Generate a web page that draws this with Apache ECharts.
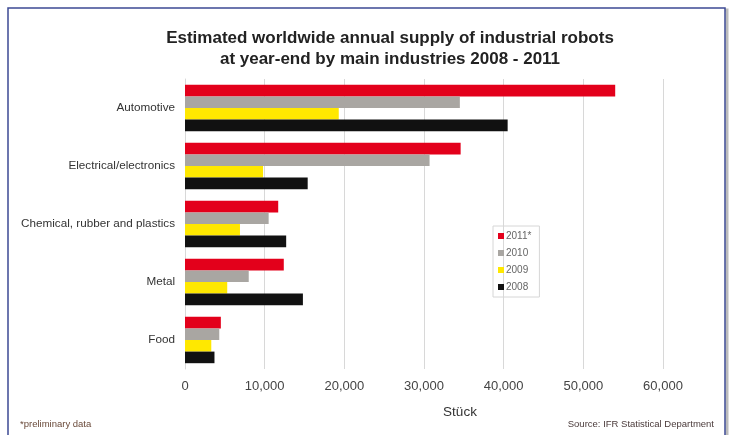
<!DOCTYPE html>
<html>
<head>
<meta charset="utf-8">
<script src="https://cdn.jsdelivr.net/npm/echarts@6/dist/echarts.min.js"></script>
<style>
html,body{margin:0;padding:0;background:#fff;}
#chart{width:735px;height:435px;}
</style>
</head>
<body>
<div id="chart"></div>
<script>
var categories = ['Automotive', 'Electrical/electronics', 'Chemical, rubber and plastics', 'Metal', 'Food'];
var seriesNames = ['2011*', '2010', '2009', '2008'];
var values2011 = [54000, 34600, 11700, 12400, 4500];
var values2010 = [34500, 30700, 10500, 8000, 4300];
var values2009 = [19300, 9800, 6900, 5300, 3300];
var values2008 = [40500, 15400, 12700, 14800, 3700];
var xTicks = [0, 10000, 20000, 30000, 40000, 50000, 60000];

var colors = ['#e3001b', '#a9a6a2', '#ffe800', '#111111'];
var allValues = [values2011, values2010, values2009, values2008];

var chart = echarts.init(document.getElementById('chart'));
var font = '"Liberation Sans", Arial, sans-serif';

chart.setOption({
  animation: false,
  textStyle: { fontFamily: font },
  title: {
    text: 'Estimated worldwide annual supply of industrial robots\nat year-end by main industries 2008 - 2011',
    left: 385, top: 23, textAlign: 'center',
    textStyle: { fontSize: 17, fontWeight: 'bold', color: '#222', lineHeight: 21, fontFamily: font }
  },
  legend: {
    orient: 'vertical',
    left: 493, top: 226,
    itemWidth: 6, itemHeight: 6, itemGap: 7,
    padding: [5, 8, 5, 5],
    borderColor: '#d6d6d6', borderWidth: 1,
    icon: 'rect',
    data: seriesNames,
    textStyle: { fontSize: 10, color: '#666', padding: [0, 0, 0, -3] }
  },
  grid: { left: 185, right: 72, top: 79, height: 290, containLabel: false },
  xAxis: {
    type: 'value', min: 0, max: 60000, interval: 10000,
    name: 'Stück', nameLocation: 'middle', nameGap: 36,
    nameTextStyle: { fontSize: 13.5, color: '#333', padding: [0, 0, 0, 72] },
    axisLine: { show: false }, axisTick: { show: false },
    axisLabel: {
      fontSize: 13, color: '#444', margin: 11,
      formatter: function (v) { return v.toLocaleString('en-US'); }
    },
    splitLine: { lineStyle: { color: '#d8d8d8', width: 1 } }
  },
  yAxis: {
    type: 'category', data: categories, inverse: true,
    axisLine: { show: true, lineStyle: { color: '#d8d8d8' } },
    axisTick: { show: false },
    axisLabel: { fontSize: 11.7, color: '#333', margin: 10 }
  },
  series: seriesNames.map(function (n, i) {
    return {
      name: n, type: 'bar', data: allValues[i],
      barGap: '0%', barCategoryGap: '20%',
      itemStyle: { color: colors[i] }
    };
  }),
  graphic: [
    { type: 'rect', shape: { x: 10, y: 10, width: 717, height: 440 }, style: { fill: 'none', stroke: '#bbbbbb', lineWidth: 3 }, z: -2 },
    { type: 'rect', shape: { x: 8, y: 8, width: 717, height: 440 }, style: { fill: '#fff', stroke: '#3d4a94', lineWidth: 1.5 }, z: -1 },
    { type: 'text', left: 20, top: 419, style: { text: '*preliminary data', fontSize: 9.5, fill: '#6a4a3a', fontFamily: font } },
    { type: 'text', right: 21, top: 419, style: { text: 'Source: IFR Statistical Department', fontSize: 9.5, fill: '#4a3a3a', fontFamily: font } }
  ]
});
</script>
</body>
</html>
